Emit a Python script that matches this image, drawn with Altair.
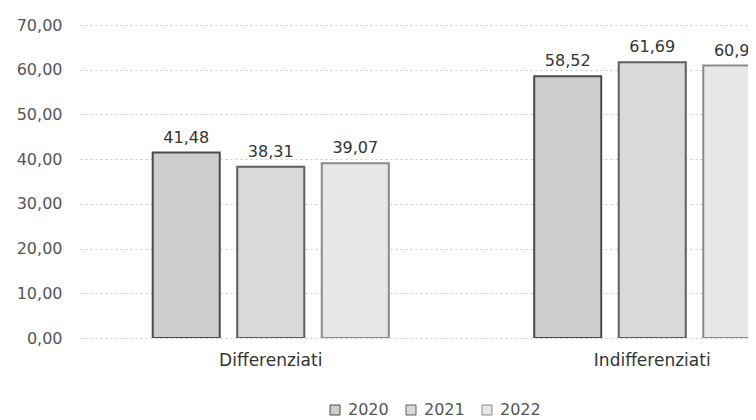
import altair as alt
import pandas as pd

categories = ["Differenziati", "Indifferenziati"]
years = ["2020", "2021", "2022"]
values_differenziati = [41.48, 38.31, 39.07]
values_indifferenziati = [58.52, 61.69, 60.93]

rows = []
for cat, vals in zip(categories, [values_differenziati, values_indifferenziati]):
    for y, v in zip(years, vals):
        rows.append({"cat": cat, "year": y, "value": v,
                     "label": f"{v:.2f}".replace(".", ",")})
df = pd.DataFrame(rows)

FONT = "DejaVu Sans"
fills = ["#cdcdcd", "#d9d9d9", "#e7e7e7"]
strokes = ["#4a4a4a", "#5e5e5e", "#8a8a8a"]

x = alt.X("cat:N", sort=categories, title=None,
          scale=alt.Scale(range=[5, 768], paddingInner=0, paddingOuter=0),
          axis=alt.Axis(labelAngle=0, domain=False, ticks=False, labelPadding=14,
                        labelFont=FONT, labelFontSize=17, labelColor="#333"))
xo = alt.XOffset("year:N", sort=years,
                 scale=alt.Scale(paddingInner=0.207, paddingOuter=0.86))
y = alt.Y("value:Q", title=None,
          scale=alt.Scale(domain=[0, 70]),
          axis=alt.Axis(values=[0, 10, 20, 30, 40, 50, 60, 70],
                        labelExpr="replace(format(datum.value, '.2f'), '.', ',')",
                        domain=False, ticks=False, labelPadding=13,
                        labelFont=FONT, labelFontSize=16, labelColor="#555",
                        grid=True, gridColor="#c8c8c8", gridDash=[2, 3],
                        gridWidth=1))

bars = alt.Chart(df).mark_bar(strokeWidth=2, clip=True).encode(
    x=x, xOffset=xo, y=y,
    fill=alt.Fill("year:N", sort=years, title=None,
                  scale=alt.Scale(domain=years, range=fills),
                  legend=alt.Legend(orient="none", legendX=252, legendY=377,
                                    direction="horizontal", symbolType="square",
                                    symbolSize=100, symbolStrokeWidth=1,
                                    labelFont=FONT, labelFontSize=16,
                                    labelColor="#555", columnPadding=14,
                                    labelOffset=5)),
    stroke=alt.Stroke("year:N", sort=years,
                      scale=alt.Scale(domain=years, range=strokes), legend=None),
)

labels = alt.Chart(df).mark_text(baseline="bottom", dy=-7, font=FONT, fontSize=16,
                                 color="#333", clip=True).encode(
    x=x, xOffset=xo, y=y, text="label:N")

chart = (bars + labels).properties(
    width=673, height=313,
    autosize=alt.AutoSizeParams(type="none"),
    padding={"left": 67, "top": 17, "right": 0, "bottom": 80},
).configure_view(stroke=None)

chart.save("out.html", embed_options={"renderer": "svg", "actions": False})
